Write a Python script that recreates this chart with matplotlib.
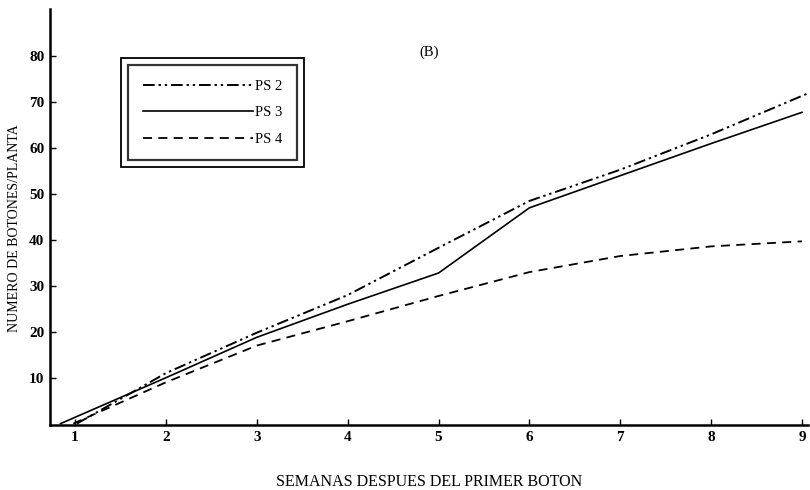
import matplotlib
matplotlib.use("Agg")
import matplotlib.pyplot as plt
from matplotlib.patches import Rectangle

plt.rcParams['font.family'] = ['Liberation Serif', 'DejaVu Serif']

# datos (semanas, botones por planta)
sem_ps2 = [1.02, 2, 3, 4, 5, 6, 7, 8, 9.05]
ps2 = [0, 11, 19.8, 28, 38.3, 48.5, 55.3, 63, 71.8]
sem_ps3 = [0.84, 2, 3, 4, 5, 6, 7, 8, 9]
ps3 = [0, 10, 18.8, 26, 32.8, 47, 54, 61, 67.8]
sem_ps4 = [0.98, 2, 3, 4, 5, 6, 7, 8, 9]
ps4 = [0, 9, 17, 22.3, 27.8, 33, 36.5, 38.6, 39.7]

xticks = [1, 2, 3, 4, 5, 6, 7, 8, 9]
yticks = [10, 20, 30, 40, 50, 60, 70, 80]

fig = plt.figure(figsize=(8.1, 4.9), dpi=100)
ax = fig.add_axes([50 / 810, 65 / 490, 758 / 810, 416 / 490])

ax.plot(sem_ps2, ps2, color='black', lw=1.4, ls=(0, (6, 2, 1.2, 2, 1.2, 2)), label='PS 2')
ax.plot(sem_ps3, ps3, color='black', lw=1.2, ls='-', label='PS 3')
ax.plot(sem_ps4, ps4, color='black', lw=1.3, ls=(0, (5, 3.5)), label='PS 4')

ax.set_xlim(0.724, 9.066)
ax.set_ylim(-0.3, 90.3)
ax.set_xticks(xticks)
ax.set_yticks(yticks)
ax.tick_params(direction='in', length=4, width=1, labelsize=11, pad=4)
for lab in ax.get_xticklabels() + ax.get_yticklabels():
    lab.set_fontweight('bold')

for s in ['top', 'right']:
    ax.spines[s].set_visible(False)
ax.spines['left'].set_linewidth(1.8)
ax.spines['bottom'].set_linewidth(1.8)

ax.set_xlabel('SEMANAS DESPUES DEL PRIMER BOTON', fontsize=11.5, va='center')
ax.xaxis.set_label_coords(0.5, -0.137)
ax.set_ylabel('NUMERO DE BOTONES/PLANTA', fontsize=10)
ax.yaxis.set_label_coords(-0.038, 0.474)
ax.text(0.487, 0.887, '(B)', transform=ax.transAxes, fontsize=10.5)

leg = ax.legend(loc='upper left', bbox_to_anchor=(0.103, 0.865), handlelength=7.6,
                handletextpad=0.1, labelspacing=0.9, fontsize=10.5, fancybox=False,
                borderpad=1.0, borderaxespad=0)
leg.get_frame().set_edgecolor('black')
leg.get_frame().set_linewidth(1.6)

# marco doble de la leyenda
fig.canvas.draw()
bb = leg.get_window_extent()
pad = 7
fig.add_artist(Rectangle((bb.x0 - pad, bb.y0 - pad), bb.width + 2 * pad, bb.height + 2 * pad,
                         transform=None, fill=False, lw=1.3, ec='black'))

fig.savefig('out.png', dpi=100)
